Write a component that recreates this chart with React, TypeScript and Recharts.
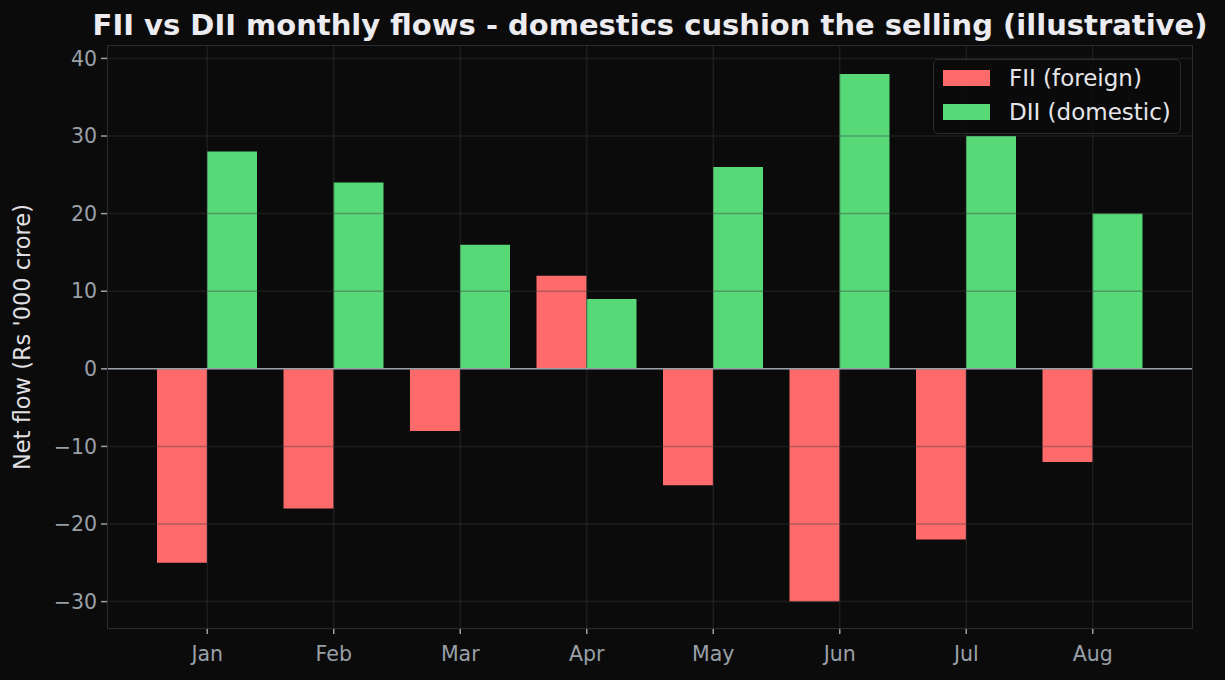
import React from 'react';
import { BarChart, Bar, XAxis, YAxis, ReferenceLine } from 'recharts';

const months = ['Jan', 'Feb', 'Mar', 'Apr', 'May', 'Jun', 'Jul', 'Aug'];
const fiiFlows = [-25, -18, -8, 12, -15, -30, -22, -12];
const diiFlows = [28, 24, 16, 9, 26, 38, 30, 20];
const yTicks = [-30, -20, -10, 0, 10, 20, 30, 40];

const data = months.map((m, i) => ({ month: m, fii: fiiFlows[i], dii: diiFlows[i] }));

const FONT = '"DejaVu Sans", sans-serif';
const BG = '#0b0b0b';
const RED = '#ff6b6b';
const GREEN = '#57d978';
const GRID = '#3c3c40';
const TICK = '#9aa0a8';
const SPINE = '#2b2b31';

// plot box in page pixels
const PLOT = { left: 108, top: 46, right: 1192, bottom: 628 };

function LegendBox() {
  const items = [
    { label: 'FII (foreign)', color: RED },
    { label: 'DII (domestic)', color: GREEN },
  ];
  return (
    <div
      style={{
        position: 'absolute',
        left: 933,
        top: 59,
        width: 248,
        height: 75,
        boxSizing: 'border-box',
        background: 'rgba(11,11,11,0.85)',
        border: '1.5px solid #2b2b31',
        borderRadius: 5,
        padding: '1px 0 0 9px',
        fontFamily: FONT,
        fontSize: 23,
        color: '#e6e6ea',
      }}
    >
      {items.map((it) => (
        <div key={it.label} style={{ display: 'flex', alignItems: 'center', height: 34 }}>
          <span style={{ width: 47, height: 16, background: it.color, marginRight: 19, flex: 'none' }} />
          <span style={{ whiteSpace: 'nowrap' }}>{it.label}</span>
        </div>
      ))}
    </div>
  );
}

const fmtY = (v: number) => String(v).replace('-', '\u2212');

export default function App() {
  return (
    <div style={{ position: 'fixed', left: 0, top: 0, width: 1225, height: 680, background: BG }}>
      <div
        style={{
          position: 'absolute',
          left: 50,
          width: 1200,
          top: 8,
          textAlign: 'center',
          fontFamily: FONT,
          fontWeight: 'bold',
          fontSize: 29,
          color: '#ebebf0',
          whiteSpace: 'nowrap',
        }}
      >
        FII vs DII monthly flows - domestics cushion the selling (illustrative)
      </div>
      <BarChart
        width={1225}
        height={680}
        data={data}
        margin={{ top: 46, right: 33, bottom: 17, left: 48 }}
        barGap={0}
        barSize={50}
        style={{ position: 'absolute', left: 0, top: 0 }}
      >
        <XAxis
          dataKey="month"
          height={35}
          padding={{ left: 36, right: 36 }}
          axisLine={false}
          tickLine={{ stroke: TICK, strokeWidth: 1.5 }}
          tickSize={6}
          tick={{ fill: TICK, fontFamily: FONT, fontSize: 20.5, dy: 10 }}
        />
        <YAxis
          width={60}
          domain={[-33.4, 41.6]}
          ticks={yTicks}
          allowDataOverflow
          axisLine={false}
          tickFormatter={fmtY}
          tickLine={{ stroke: TICK, strokeWidth: 1.5 }}
          tickSize={7}
          tick={{ fill: TICK, fontFamily: FONT, fontSize: 20.5, dx: -2 }}
          label={{
            value: "Net flow (Rs '000 crore)",
            angle: -90,
            position: 'insideLeft',
            dx: -31,
            dy: 0,
            style: { textAnchor: 'middle', fill: '#e0e0e4', fontFamily: FONT, fontSize: 22.5 },
          }}
        />
        <Bar dataKey="fii" name="FII (foreign)" fill={RED} isAnimationActive={false} />
        <Bar dataKey="dii" name="DII (domestic)" fill={GREEN} isAnimationActive={false} />
        {yTicks.map((t) => (
          <ReferenceLine key={`h${t}`} y={t} stroke={GRID} strokeOpacity={0.38} strokeWidth={1.5} />
        ))}
        {months.map((m) => (
          <ReferenceLine key={`v${m}`} x={m} stroke={GRID} strokeOpacity={0.38} strokeWidth={1.5} />
        ))}
        <ReferenceLine y={0} stroke={TICK} strokeWidth={1.6} />
      </BarChart>
      <div
        style={{
          position: 'absolute',
          left: PLOT.left - 1,
          top: PLOT.top - 1,
          width: PLOT.right - PLOT.left,
          height: PLOT.bottom - PLOT.top,
          border: `1.5px solid ${SPINE}`,
          pointerEvents: 'none',
        }}
      />
      <LegendBox />
    </div>
  );
}
